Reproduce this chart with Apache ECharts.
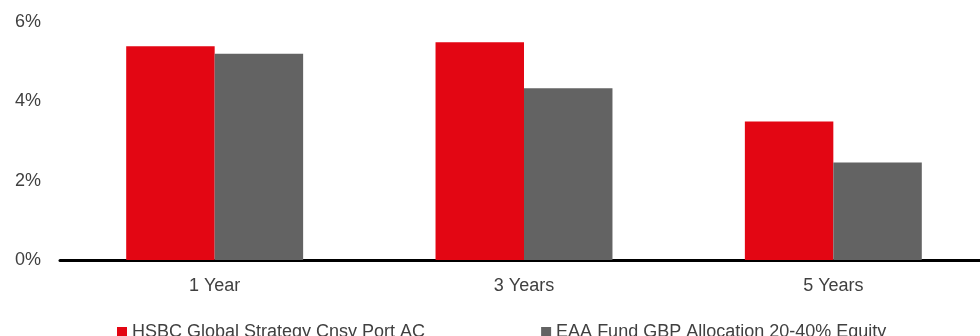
<!DOCTYPE html>
<html>
<head>
<meta charset="utf-8">
<style>
  html, body { margin: 0; padding: 0; background: #ffffff; }
  #chart { width: 980px; height: 336px; }
</style>
<script src="https://cdn.jsdelivr.net/npm/echarts@6/dist/echarts.min.js"></script>
</head>
<body>
<div id="chart"></div>
<script>
// Annualised performance by period (%)
const categories = ['1 Year', '3 Years', '5 Years'];
const fundName = 'HSBC Global Strategy Cnsy Port AC';
const peerName = 'EAA Fund GBP Allocation 20-40% Equity';
const fundValues = [5.39, 5.49, 3.49];
const peerValues = [5.20, 4.33, 2.46];
const yTicks = [0, 2, 4, 6];

const chart = echarts.init(document.getElementById('chart'), null, { renderer: 'canvas' });

const textColor = '#404040';
const fontFamily = 'Arial, "Liberation Sans", Helvetica, sans-serif';

chart.setOption({
  animation: false,
  textStyle: { fontFamily: fontFamily },
  // plot area runs slightly past the right edge of the canvas
  grid: { left: 60, width: 928, top: 22, height: 238, containLabel: false, outerBoundsMode: 'none' },
  legend: {
    top: 318,
    left: 112,
    itemGap: 116,
    itemWidth: 10,
    itemHeight: 10,
    icon: 'rect',
    textStyle: { color: textColor, fontSize: 18, fontFamily: fontFamily },
    data: [fundName, peerName]
  },
  xAxis: {
    type: 'category',
    data: categories,
    axisLine: { show: true, lineStyle: { color: '#000000', width: 3 } },
    axisTick: { show: false },
    axisLabel: { color: textColor, fontSize: 18, margin: 17 }
  },
  yAxis: {
    type: 'value',
    min: yTicks[0],
    max: yTicks[yTicks.length - 1],
    interval: 2,
    axisLine: { show: false },
    axisTick: { show: false },
    splitLine: { show: false },
    axisLabel: { color: textColor, fontSize: 18, margin: 19, formatter: v => v + '%' }
  },
  series: [
    {
      name: fundName,
      type: 'bar',
      data: fundValues,
      barWidth: '28.6%',
      barGap: '0%',
      itemStyle: { color: '#E30613' }
    },
    {
      name: peerName,
      type: 'bar',
      data: peerValues,
      barWidth: '28.6%',
      barGap: '0%',
      itemStyle: { color: '#636363' }
    }
  ]
});
</script>
</body>
</html>
